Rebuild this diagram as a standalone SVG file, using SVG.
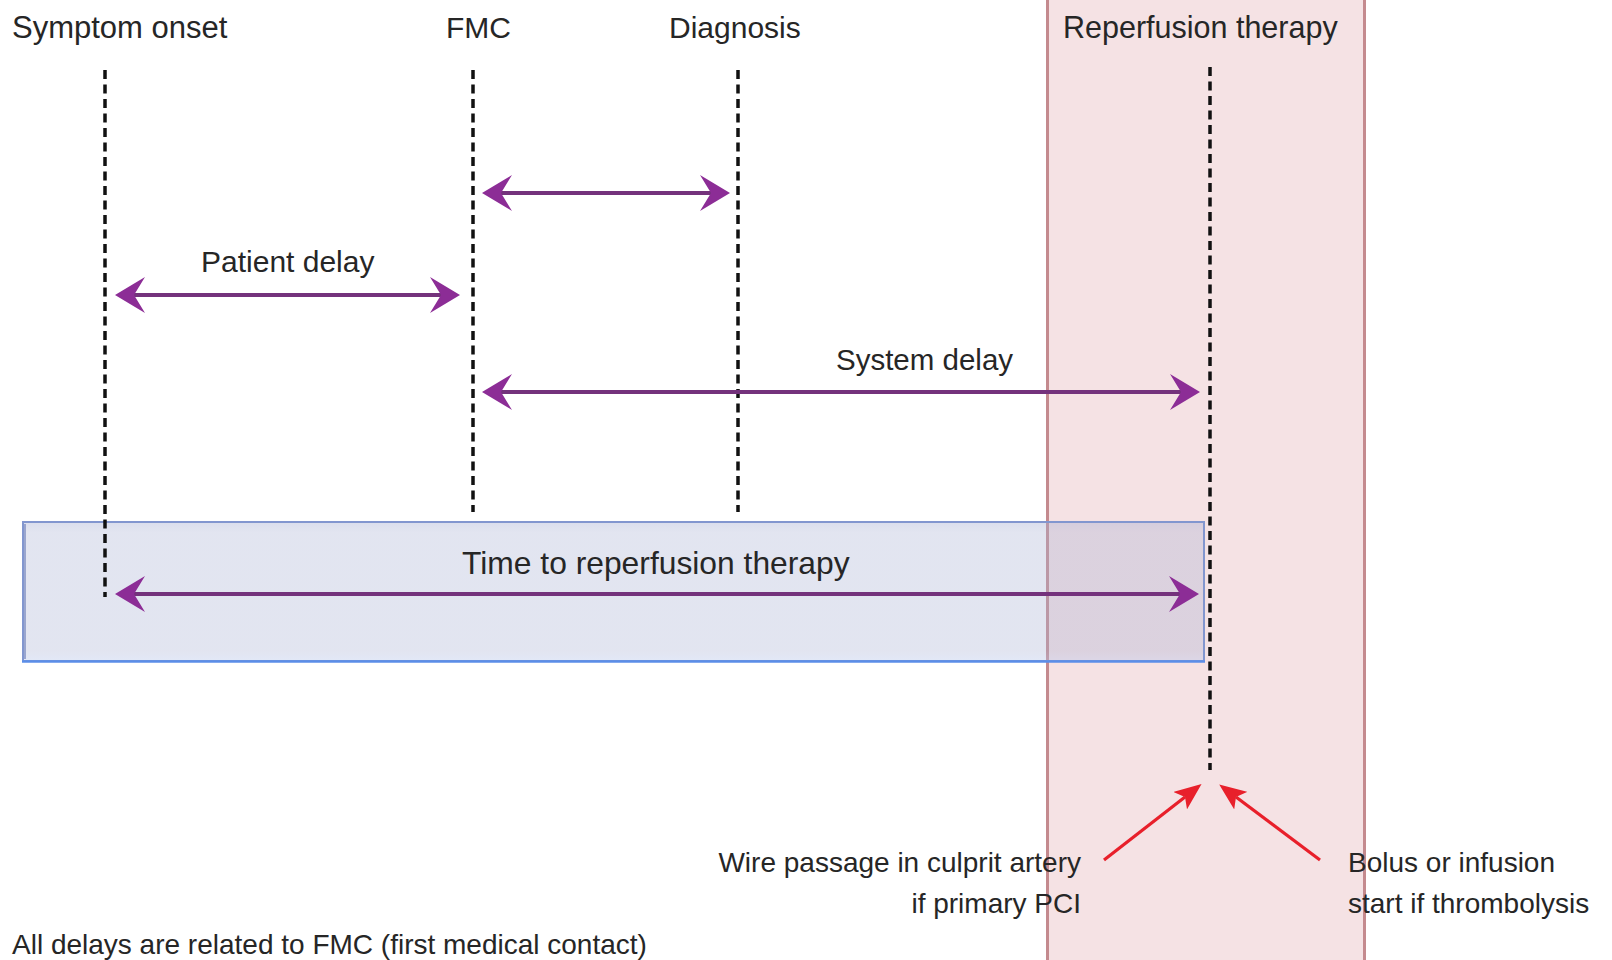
<svg xmlns="http://www.w3.org/2000/svg" width="1612" height="960" viewBox="0 0 1612 960">
  <defs>
    <style>
      .lbl { font-family: "Liberation Sans", Arial, sans-serif; fill: #262626; }
      .hd { font-size: 30px; }
      .md { font-size: 29.5px; }
      .sm { font-size: 28px; }
      .tick { stroke: #111111; stroke-width: 3.5; stroke-dasharray: 9 5.5; fill: none; }
      .span { stroke: #74327c; stroke-width: 4; fill: none; marker-start: url(#pHead); marker-end: url(#pHead); }
      .ptr { stroke: #e8202b; stroke-width: 3.2; fill: none; marker-end: url(#rHead); }
    </style>
    <marker id="pHead" markerUnits="userSpaceOnUse" viewBox="0 0 30 36" markerWidth="30" markerHeight="36" refX="11" refY="18" orient="auto-start-reverse">
      <path d="M30,18 L0,0 L11,18 L0,36 Z" fill="#8c2d96"/>
    </marker>
    <marker id="rHead" markerUnits="userSpaceOnUse" viewBox="0 0 27 22" markerWidth="27" markerHeight="22" refX="6" refY="11" orient="auto">
      <path d="M27,11 L0,0 L6,11 L0,22 Z" fill="#e8202b"/>
    </marker>
    <linearGradient id="boxShade" x1="0" y1="0" x2="0" y2="1">
      <stop offset="0" stop-color="#a6aed2" stop-opacity="0.42"/>
      <stop offset="0.08" stop-color="#aab2d4" stop-opacity="0.34"/>
      <stop offset="0.92" stop-color="#aab2d4" stop-opacity="0.34"/>
      <stop offset="1" stop-color="#b8c8ef" stop-opacity="0.4"/>
    </linearGradient>
  </defs>

  <rect width="1612" height="960" fill="#ffffff"/>

  <!-- reperfusion therapy window -->
  <g id="reperfusion-band">
    <rect x="1047" y="0" width="318" height="960" fill="#f5e2e4"/>
    <line x1="1047.5" y1="0" x2="1047.5" y2="960" stroke="#c48a8e" stroke-width="3"/>
    <line x1="1364.5" y1="0" x2="1364.5" y2="960" stroke="#c48a8e" stroke-width="3"/>
  </g>

  <!-- overall time box -->
  <g id="time-box">
    <rect x="22" y="521" width="1183" height="141" fill="url(#boxShade)"/>
    <rect x="23" y="522" width="1181" height="139" fill="none" stroke="#8296cf" stroke-width="2"/>
    <line x1="22" y1="661.5" x2="1205" y2="661.5" stroke="#5b8ee8" stroke-width="2.5"/>
    <line x1="25" y1="524" x2="25" y2="659" stroke="#6b7cb8" stroke-width="2" stroke-opacity="0.6"/>
  </g>

  <!-- event markers -->
  <g id="event-lines">
    <line class="tick" x1="105" y1="70" x2="105" y2="597"/>
    <line class="tick" x1="473" y1="70" x2="473" y2="512"/>
    <line class="tick" x1="738" y1="70" x2="738" y2="512"/>
    <line class="tick" x1="1210" y1="67" x2="1210" y2="770"/>
  </g>

  <g id="symptom-onset"><text class="lbl" x="12" y="38" font-size="31">Symptom onset</text></g>
  <g id="fmc"><text class="lbl hd" x="446" y="38">FMC</text></g>
  <g id="diagnosis"><text class="lbl hd" x="669" y="38">Diagnosis</text></g>
  <g id="reperfusion-therapy"><text class="lbl" x="1063" y="38" font-size="30.5">Reperfusion therapy</text></g>

  <!-- interval connectors -->
  <g id="connectors">
    <line class="span" x1="501" y1="193" x2="711" y2="193"/>
    <line class="span" x1="134" y1="295" x2="441" y2="295"/>
    <line class="span" x1="501" y1="392" x2="1181" y2="392"/>
    <line class="span" x1="134" y1="594" x2="1180" y2="594"/>
    <line class="ptr" x1="1104" y1="860" x2="1185" y2="797"/>
    <line class="ptr" x1="1320" y1="860" x2="1236" y2="797"/>
  </g>

  <g id="patient-delay"><text class="lbl hd" x="201" y="272">Patient delay</text></g>
  <g id="system-delay"><text class="lbl md" x="836" y="370">System delay</text></g>
  <g id="time-to-reperfusion"><text class="lbl" x="462" y="574" font-size="31.8">Time to reperfusion therapy</text></g>

  <g id="pci-note">
    <text class="lbl sm" x="1081" y="872" text-anchor="end">Wire passage in culprit artery</text>
    <text class="lbl sm" x="1081" y="913" text-anchor="end">if primary PCI</text>
  </g>
  <g id="thrombolysis-note">
    <text class="lbl sm" x="1348" y="872">Bolus or infusion</text>
    <text class="lbl sm" x="1348" y="913">start if thrombolysis</text>
  </g>

  <g id="footnote"><text class="lbl sm" x="12" y="954">All delays are related to FMC (first medical contact)</text></g>
</svg>
